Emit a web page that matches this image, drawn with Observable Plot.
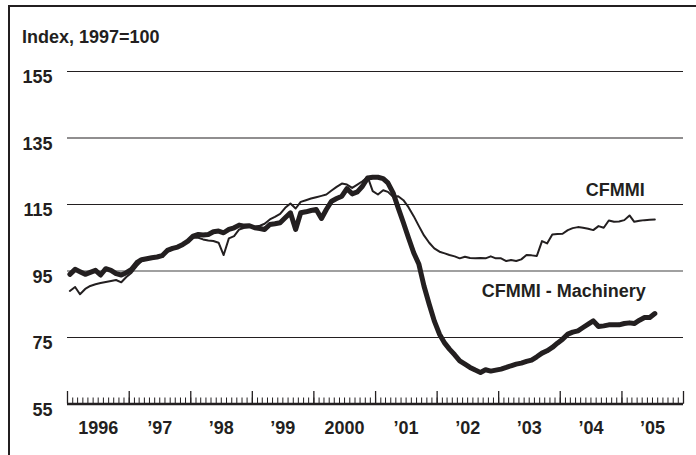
<!DOCTYPE html>
<html><head><meta charset="utf-8">
<script src="https://cdn.jsdelivr.net/npm/d3@7"></script>
<script src="https://cdn.jsdelivr.net/npm/@observablehq/plot@0.6"></script>
<style>
html,body{margin:0;padding:0;background:#fff;overflow:hidden;}
#wrap{position:relative;width:696px;height:455px;font-family:"Liberation Sans",Arial,sans-serif;color:#231f20;overflow:hidden;}
#border{position:absolute;left:7.5px;top:5px;width:700px;height:470px;border-left:2.6px solid #231f20;border-top:2.4px solid #231f20;box-sizing:border-box;}
#chart{position:absolute;left:0;top:0;}
#title{position:absolute;left:22px;top:27.5px;font-size:18px;line-height:18px;font-weight:bold;white-space:nowrap;}
</style></head><body>
<div id="wrap"><div id="border"></div><div id="chart"></div><div id="title">Index, 1997=100</div></div>
<script>
const startYear = 1996;
const seriesNames = ["CFMMI", "CFMMI - Machinery"];
const cfmmi = [
  89.0, 90.2, 88.0, 89.6, 90.5, 91.0, 91.4, 91.7, 92.0, 92.3, 91.6, 93.2,
  94.5, 96.5, 98.0, 98.5, 98.8, 99.0, 99.4, 100.8, 101.5, 102.0, 102.8, 103.8,
  105.0, 105.0, 104.5, 104.2, 104.0, 103.5, 99.8, 104.8, 105.5, 107.5, 108.0, 108.3,
  108.3, 108.6, 109.2, 110.5, 111.3, 112.2, 114.0, 115.3, 113.8, 115.8, 116.3, 116.8,
  117.2, 117.6, 118.0, 119.2, 120.3, 121.3, 121.0, 120.0, 121.0, 122.0, 123.3, 119.0,
  118.0, 119.3, 118.8, 117.3, 117.5, 116.3, 114.2, 111.5, 108.5, 105.7, 103.5, 101.8,
  100.8, 100.3, 99.8, 99.4, 98.8, 99.3, 98.9, 98.8, 98.9, 98.8, 99.4, 98.8,
  98.8, 98.0, 98.3, 98.0, 98.5, 99.8, 99.7, 99.5, 104.0, 103.3, 106.0, 106.1,
  106.2, 107.3, 107.9, 108.2, 108.0, 107.7, 107.3, 108.5, 108.0, 110.2, 109.8, 109.9,
  110.3, 111.7, 109.8, 110.1, 110.3, 110.4, 110.5
];
const machinery = [
  94.0, 95.5, 94.8, 94.0, 94.6, 95.2, 93.8, 95.7, 95.2, 94.2, 93.8, 94.5,
  95.5, 97.5, 98.4, 98.7, 99.0, 99.2, 99.6, 101.2, 101.8, 102.2, 103.0, 104.0,
  105.5, 106.0, 105.8, 106.0, 106.8, 107.0, 106.5, 107.5, 108.0, 108.8, 108.5, 108.6,
  108.0, 107.8, 107.5, 109.0, 109.2, 109.5, 111.0, 112.5, 107.5, 112.5, 112.8, 113.2,
  113.5, 110.8, 113.5, 116.0, 116.8, 117.5, 119.8, 118.2, 118.8, 120.5, 123.0, 123.2,
  123.2, 122.8, 121.5, 118.5, 114.0, 109.5, 105.0, 100.5, 97.0, 90.5, 85.0, 80.0,
  76.0, 73.3, 71.5, 69.8, 68.0, 67.0, 66.0, 65.2, 64.5, 65.3, 64.9, 65.2,
  65.5, 66.0, 66.5, 67.0, 67.3, 67.8, 68.2, 69.2, 70.3, 71.0, 72.0, 73.3,
  74.5, 76.0, 76.6, 77.0, 78.0, 79.0, 80.0, 78.3, 78.5, 78.8, 78.8, 78.8,
  79.2, 79.4, 79.2, 80.2, 81.0, 81.0, 82.2
];
const yTicks = [55, 75, 95, 115, 135, 155];
const gridValues = [75, 95, 115, 135, 155];
const yearLabels = ["1996", "\u201997", "\u201998", "\u201999", "2000", "\u201901", "\u201902", "\u201903", "\u201904", "\u201905"];

const ink = "#231f20";
const dates = cfmmi.map((_, i) => new Date(Date.UTC(startYear, i, 15)));
const cfRows = cfmmi.map((v, i) => ({series: seriesNames[0], date: dates[i], value: v}));
const maRows = machinery.map((v, i) => ({series: seriesNames[1], date: dates[i], value: v}));
const x0 = new Date(Date.UTC(startYear, 0, 1));
const x1 = new Date(Date.UTC(startYear + yearLabels.length, 0, 1));
const monthTicks = d3.utcMonth.range(x0, new Date(+x1 + 1));
const yearTicks = d3.utcYear.range(x0, new Date(+x1 + 1));
const labelDates = yearLabels.map((_, i) => new Date(Date.UTC(startYear + i, 6, 1)));

const H = 455, mT = 71, mB = 51.5, plotH = H - mT - mB;
const font = {fontFamily: "'Liberation Sans', Arial, sans-serif", fontSize: 18, fontWeight: "bold", fill: ink};

const chart = Plot.plot({
  width: 696, height: H,
  marginLeft: 67, marginRight: 13, marginTop: mT, marginBottom: mB,
  x: {type: "utc", domain: [x0, x1]},
  y: {domain: [55, 155]},
  style: {background: "transparent", color: ink, fontFamily: "'Liberation Sans', Arial, sans-serif", fontSize: "18px", fontWeight: "bold"},
  marks: [
    Plot.ruleY(gridValues.filter(d => d !== 95), {stroke: ink, strokeWidth: 1.2}),
    Plot.ruleY(gridValues.filter(d => d === 95), {stroke: "#808080", strokeWidth: 1.6}),
    Plot.ruleX(monthTicks, {stroke: ink, strokeWidth: 1, insetTop: plotH - 6}),
    Plot.ruleX(yearTicks, {stroke: ink, strokeWidth: 1.3, insetTop: plotH - 12.5}),
    Plot.ruleY([55], {stroke: ink, strokeWidth: 2.6}),
    Plot.lineY(cfRows, {x: "date", y: "value", stroke: ink, strokeWidth: 2}),
    Plot.lineY(maRows, {x: "date", y: "value", stroke: ink, strokeWidth: 5}),
    Plot.axisY(yTicks, {label: null, tickSize: 0, tickPadding: 15, dy: 6, ...font}),
    Plot.axisX(labelDates, {label: null, tickSize: 0, tickPadding: 17,
      tickFormat: d => yearLabels[d.getUTCFullYear() - startYear], ...font}),
    Plot.text(cfRows, Plot.selectLast({x: "date", y: "value", text: "series", textAnchor: "end", dx: -10, dy: -29, ...font})),
    Plot.text(maRows, Plot.selectLast({x: "date", y: "value", text: "series", textAnchor: "end", dx: -9, dy: -22.5, ...font}))
  ]
});
document.getElementById("chart").appendChild(chart);
</script>
</body></html>
